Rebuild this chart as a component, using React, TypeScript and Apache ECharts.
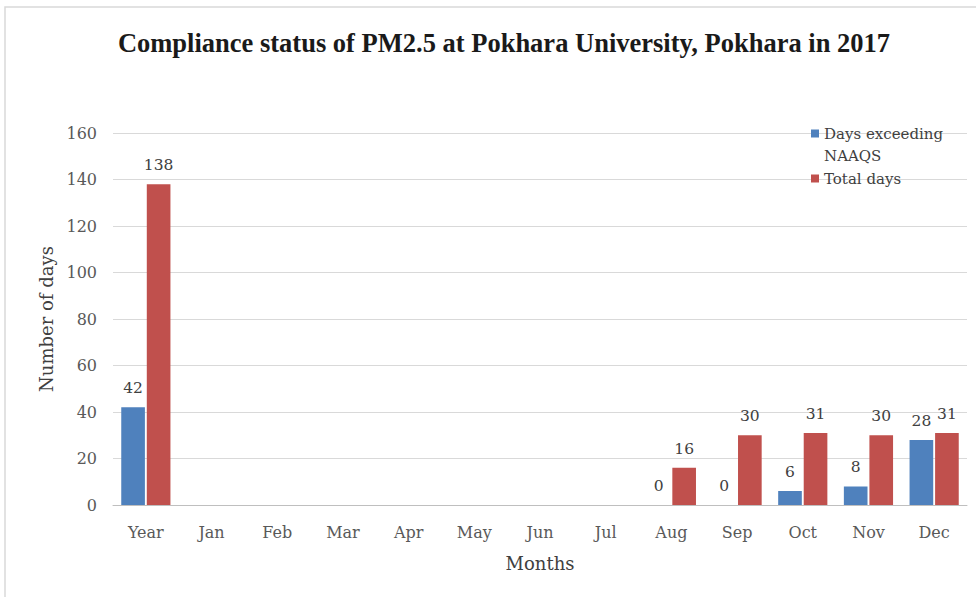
import React, { useEffect, useRef } from "react";
import * as echarts from "echarts";

const categories = ["Year", "Jan", "Feb", "Mar", "Apr", "May", "Jun", "Jul", "Aug", "Sep", "Oct", "Nov", "Dec"];
const exceedingDays = [42, null, null, null, null, null, null, null, 0, 0, 6, 8, 28];
const totalDays = [138, null, null, null, null, null, null, null, 16, 30, 31, 30, 31];
const yTicks = { min: 0, max: 160, interval: 20 };

const FONT = "'DejaVu Serif', serif";
const TITLE_FONT = "'Liberation Serif', serif";

export default function App() {
  const ref = useRef<HTMLDivElement>(null);
  useEffect(() => {
    if (!ref.current) return;
    const chart = echarts.init(ref.current, undefined, { renderer: "svg" });
    const label = {
      show: true,
      position: "top" as const,
      distance: 11,
      color: "#404040",
      fontSize: 15.5,
      fontFamily: FONT,
    };
    chart.setOption({
      animation: false,
      backgroundColor: "#ffffff",
      title: {
        text: "Compliance status of PM2.5 at Pokhara University, Pokhara in 2017",
        left: 499,
        textAlign: "center",
        top: 24,
        textStyle: { fontFamily: TITLE_FONT, fontWeight: "bold", fontSize: 26.5, color: "#1a1a1a" },
      },
      graphic: [
        {
          type: "rect",
          shape: { x: 5, y: 7, width: 1000, height: 620 },
          style: { fill: "none", stroke: "#d9d9d9", lineWidth: 1.5 },
          silent: true,
        },
      ],
      legend: [
        {
          data: ["Days exceeding NAAQS"],
          left: 806,
          top: 99,
          orient: "vertical",
          icon: "rect",
          itemWidth: 8,
          itemHeight: 8,
          formatter: () => "{s| }\n{a|Days exceeding}\n{a|NAAQS}",
          textStyle: {
            fontFamily: FONT,
            fontSize: 15,
            color: "#404040",
            rich: {
              s: { fontFamily: FONT, fontSize: 15, lineHeight: 22 },
              a: { fontFamily: FONT, fontSize: 15, lineHeight: 22, color: "#404040" },
            },
          },
        },
        {
          data: ["Total days"],
          left: 806,
          top: 166,
          orient: "vertical",
          icon: "rect",
          itemWidth: 8,
          itemHeight: 8,
          textStyle: { fontFamily: FONT, fontSize: 15, color: "#404040" },
        },
      ],
      grid: { left: 113, right: 9, top: 133, bottom: 92 },
      xAxis: {
        type: "category",
        data: categories,
        name: "Months",
        nameLocation: "middle",
        nameGap: 49,
        nameTextStyle: { fontFamily: FONT, fontSize: 18, color: "#404040" },
        axisLine: { lineStyle: { color: "#bfbfbf" } },
        axisTick: { show: false },
        axisLabel: { fontFamily: FONT, fontSize: 16, color: "#595959", margin: 19 },
      },
      yAxis: {
        type: "value",
        min: yTicks.min,
        max: yTicks.max,
        interval: yTicks.interval,
        name: "Number of days",
        nameLocation: "middle",
        nameGap: 56,
        nameTextStyle: { fontFamily: FONT, fontSize: 18, color: "#404040" },
        axisLine: { show: false },
        axisTick: { show: false },
        axisLabel: { fontFamily: FONT, fontSize: 16, color: "#595959", margin: 16 },
        splitLine: { lineStyle: { color: "#d9d9d9" } },
      },
      series: [
        {
          name: "Days exceeding NAAQS",
          type: "bar",
          data: exceedingDays,
          barWidth: "36%",
          barGap: "8%",
          itemStyle: { color: "#4f81bd" },
          label,
        },
        {
          name: "Total days",
          type: "bar",
          data: totalDays,
          barWidth: "36%",
          itemStyle: { color: "#c0504d" },
          label,
        },
      ],
    });
    return () => chart.dispose();
  }, []);
  return (
    <div style={{ position: "absolute", left: 0, top: 0, width: 976, height: 597 }}>
      <div ref={ref} style={{ width: 976, height: 597 }} />
    </div>
  );
}
